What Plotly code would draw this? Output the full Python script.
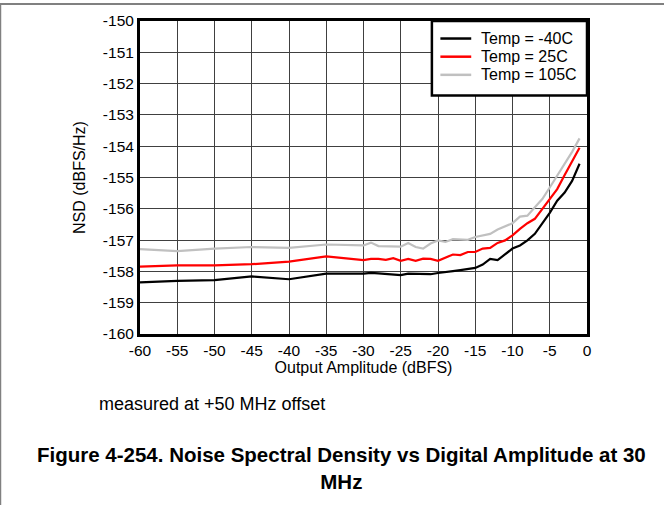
import plotly.graph_objects as go

# Output amplitude (dBFS) and NSD (dBFS/Hz)
amp_coarse = [-60, -55, -50, -45, -40, -35]
amp_fine = list(range(-30, 0))  # -30 ... -1 in 1 dB steps
amplitude = amp_coarse + amp_fine

nsd_m40 = [-158.35, -158.30, -158.28, -158.16, -158.25, -158.07,
           -158.07, -158.05, -158.06, -158.08, -158.12, -158.12, -158.07, -158.07, -158.08, -158.09,
           -158.05, -158.01, -157.99, -157.96, -157.93, -157.89, -157.78, -157.60, -157.64, -157.45,
           -157.27, -157.17, -157.01, -156.80, -156.48, -156.13, -155.74, -155.48, -155.11, -154.56]

nsd_25 = [-157.85, -157.81, -157.81, -157.77, -157.69, -157.52,
          -157.64, -157.60, -157.60, -157.63, -157.58, -157.66, -157.60, -157.66, -157.59, -157.60,
          -157.66, -157.57, -157.46, -157.48, -157.38, -157.38, -157.27, -157.25, -157.09, -157.01,
          -156.85, -156.64, -156.46, -156.32, -156.00, -155.66, -155.37, -154.92, -154.47, -154.05]

nsd_105 = [-157.29, -157.35, -157.27, -157.22, -157.25, -157.14,
           -157.17, -157.08, -157.19, -157.19, -157.21, -157.21, -157.09, -157.22, -157.27, -157.11,
           -157.01, -157.06, -156.97, -156.99, -156.99, -156.90, -156.85, -156.80, -156.66, -156.56,
           -156.46, -156.25, -156.22, -155.95, -155.69, -155.32, -154.95, -154.58, -154.18, -153.75]

names = ["Temp = -40C", "Temp = 25C", "Temp = 105C"]
colors = ["#000000", "#ff0000", "#c0c0c0"]

x_ticks = list(range(-60, 1, 5))
x_labels = ["-60", "-55", "-50", "-45", "-40", "-35", "-30", "-25", "-20", "-15", "-10", "-5", "0"]
y_ticks = list(range(-160, -149))
y_labels = ["-160", "-159", "-158", "-157", "-156", "-155", "-154", "-153", "-152", "-151", "-150"]

font = "Liberation Sans, Arial, sans-serif"

fig = go.Figure()
for name, ys, c in zip(names, [nsd_m40, nsd_25, nsd_105], colors):
    fig.add_trace(go.Scatter(x=amplitude, y=ys, mode="lines", name=name,
                             line=dict(color=c, width=2.2)))

fig.update_layout(
    width=664, height=505,
    margin=dict(l=140, r=77, t=19, b=171),
    paper_bgcolor="white", plot_bgcolor="white",
    font=dict(family=font, size=15.5, color="black"),
    showlegend=False,
    xaxis=dict(range=[-60, 0], tickmode="array", tickvals=x_ticks, ticktext=x_labels,
               showgrid=True, gridcolor="#404040", gridwidth=1,
               showline=True, linecolor="black", linewidth=3, mirror=True,
               ticks="", zeroline=False,
               title=dict(text="Output Amplitude (dBFS)", font=dict(size=16), standoff=3)),
    yaxis=dict(range=[-160, -150], tickmode="array", tickvals=y_ticks, ticktext=y_labels,
               showgrid=True, gridcolor="#404040", gridwidth=1,
               showline=True, linecolor="black", linewidth=3, mirror=True,
               ticks="", zeroline=False,
               title=dict(text="NSD (dBFS/Hz)", font=dict(size=16), standoff=14)),
)

# legend box drawn in the top-right corner of the plot
fig.add_shape(type="rect", xref="paper", yref="paper", x0=0.653, x1=1.0, y0=0.762, y1=1.0,
              fillcolor="white", line=dict(color="black", width=2.5), layer="above")
for i, (name, c) in enumerate(zip(names, colors)):
    yy = 0.944 - i * 0.058
    fig.add_shape(type="line", xref="paper", yref="paper", x0=0.672, x1=0.741, y0=yy, y1=yy,
                  line=dict(color=c, width=2.5), layer="above")
    fig.add_annotation(text=name, xref="paper", yref="paper", x=0.758, y=yy,
                       xanchor="left", yanchor="middle", showarrow=False, font=dict(size=16))

# page frame lines (top and left)
fig.add_shape(type="line", xref="paper", yref="paper", x0=-0.32, x1=1.2, y0=1.054, y1=1.054,
              line=dict(color="#808080", width=2))
fig.add_shape(type="line", xref="paper", yref="paper", x0=-0.3121, x1=-0.3121, y0=1.054, y1=-0.55,
              line=dict(color="#808080", width=1.5))

fig.add_annotation(text="measured at +50 MHz offset", xref="paper", yref="paper",
                   x=-0.096, y=-0.225, xanchor="left", yanchor="middle", showarrow=False,
                   font=dict(size=18))
fig.add_annotation(text="<b>Figure 4-254. Noise Spectral Density vs Digital Amplitude at 30<br>MHz</b>",
                   xref="paper", yref="paper", x=0.45, y=-0.429, xanchor="center", yanchor="middle",
                   align="center", showarrow=False, font=dict(size=20.5))

fig.write_html("out.html", config={"displayModeBar": False},
               post_script="document.body.style.margin='0';document.body.style.overflow='hidden';")
